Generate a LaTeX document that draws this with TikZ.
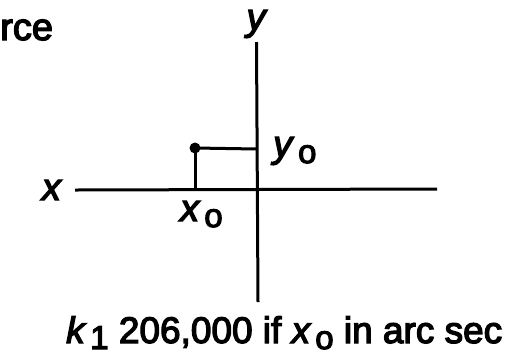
\documentclass[tikz,border=0pt]{standalone}
\usepackage{fontspec}
\setmainfont{Liberation Sans}[FakeBold=3.5]
\newcommand{\lowsub}[1]{\kern4pt\raisebox{-6pt}{\fontsize{33}{33}\selectfont #1}}
\begin{document}
\begin{tikzpicture}[x=1pt,y=-1pt,
  axis/.style={line width=3pt},
  lbl/.style={font=\fontsize{38}{40}\selectfont, inner sep=0pt}]
\useasboundingbox (0,0) rectangle (518,360);
% labels
\node[lbl, anchor=base west] (rce) at (0,40) {rce};
\node[lbl, anchor=base] (ylab) at (257,30) {\textit{y}};
\node[lbl, anchor=base] (xlab) at (52,200) {\textit{x}};
\node[lbl, anchor=base west] (yo) at (273,157) {\textit{y}\lowsub{o}};
\node[lbl, anchor=base west] (xo) at (180,221) {\textit{x}\lowsub{o}};
\node[lbl, anchor=base west, font=\fontsize{37}{40}\selectfont] (caption) at (66,343) {\textit{k}\lowsub{1} 206,000 if \textit{x}\lowsub{o} in arc sec};
% axes
\coordinate (ytop) at (256.5,42);
\coordinate (ybot) at (258,302);
\coordinate (xl) at (75,190);
\coordinate (xr) at (437,189);
\draw[axis] (ytop) -- (ybot);
\draw[axis] (xl) -- (xr);
% point and projections
\node[circle, fill, inner sep=0pt, minimum size=11pt] (P) at (195,148) {};
\coordinate (Px) at (195,190);
\coordinate (Py) at (257,149);
\draw[axis] (P.center) -- (Px);
\draw[axis] (P.center) -- (Py);
\end{tikzpicture}
\end{document}
